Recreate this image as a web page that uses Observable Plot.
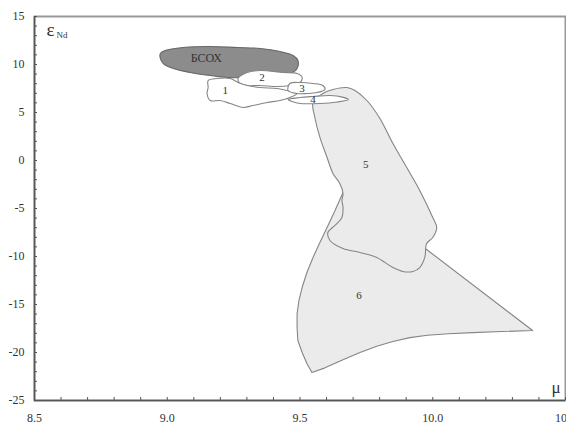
<!DOCTYPE html>
<html><head><meta charset="utf-8">
<script src="https://cdn.jsdelivr.net/npm/d3@7"></script>
<script src="https://cdn.jsdelivr.net/npm/@observablehq/plot@0.6"></script>
<style>
body{margin:0;background:#fff;}
svg text{font-family:"Liberation Serif","DejaVu Serif",serif !important;}
</style>
</head><body><div id="chart"></div>
<script>
// axis domains and ticks
const xDomain = [8.5, 10.5];
const yDomain = [-25, 15];
const xTicks = [8.5, 9.0, 9.5, 10.0, 10.5];
const yTicks = [-25, -20, -15, -10, -5, 0, 5, 10, 15];
const xMinor = d3.range(85, 106).map(d => d / 10);
const yMinor = d3.range(-25, 16);

// field outlines [mu, epsNd]
const bsox = [[8.974,11.15],[8.992,11.46],[9.060,11.77],[9.162,11.875],[9.263,11.77],[9.350,11.67],[9.425,11.35],[9.474,10.94],[9.492,10.42],[9.489,9.58],[9.462,9.06],[9.414,9.06],[9.350,9.06],[9.301,9.06],[9.267,8.65],[9.226,8.65],[9.162,8.85],[9.086,9.17],[9.023,9.58],[8.985,10.10],[8.974,10.63]];
const field1 = [[9.154,8.33],[9.188,8.54],[9.237,8.54],[9.267,8.125],[9.301,7.81],[9.350,7.60],[9.414,7.50],[9.451,7.29],[9.489,6.98],[9.462,6.56],[9.425,6.25],[9.376,6.04],[9.323,5.73],[9.286,5.52],[9.237,5.94],[9.199,6.25],[9.162,6.25],[9.150,6.98],[9.154,7.60]];
const field2 = [[9.267,8.54],[9.301,9.17],[9.350,9.375],[9.436,9.17],[9.489,9.06],[9.508,8.65],[9.500,8.125],[9.462,7.81],[9.414,7.71],[9.350,7.81],[9.301,7.81],[9.274,8.02]];
const field3 = [[9.462,8.02],[9.500,8.125],[9.549,8.02],[9.586,7.81],[9.594,7.40],[9.564,7.08],[9.526,6.98],[9.489,6.98],[9.455,7.29]];
const field4 = [[9.455,6.35],[9.500,6.56],[9.549,6.67],[9.613,6.77],[9.660,6.60],[9.682,6.35],[9.640,6.10],[9.575,5.94],[9.500,5.94],[9.470,6.15]];
const field5 = [[9.549,6.04],[9.586,6.98],[9.624,7.40],[9.677,7.60],[9.707,7.29],[9.752,6.25],[9.801,4.375],[9.850,1.77],[9.902,-0.73],[9.951,-3.125],[10.000,-5.94],[10.015,-6.98],[10.000,-8.02],[9.977,-8.65],[9.970,-10.10],[9.951,-11.15],[9.925,-11.56],[9.887,-11.56],[9.850,-11.15],[9.789,-10.10],[9.726,-9.58],[9.662,-9.17],[9.613,-8.33],[9.605,-7.5],[9.632,-6.77],[9.658,-5.94],[9.662,-4.90],[9.658,-4.17],[9.662,-3.44],[9.650,-2.40],[9.624,-1.35],[9.602,0.31],[9.575,2.40],[9.556,4.48]];
const field6 = [[9.662,-3.33],[9.632,-5.21],[9.602,-6.98],[9.575,-8.54],[9.549,-10.10],[9.526,-11.67],[9.508,-13.23],[9.496,-14.58],[9.489,-15.94],[9.489,-17.40],[9.492,-18.75],[9.508,-20.0],[9.526,-21.15],[9.545,-22.08],[9.594,-21.60],[9.662,-20.75],[9.726,-20.00],[9.789,-19.35],[9.850,-18.85],[9.914,-18.45],[9.980,-18.20],[10.060,-18.05],[10.150,-17.93],[10.260,-17.82],[10.376,-17.71],[9.977,-9.27]];

// field labels
const labelNames = ["БСОХ", "1", "2", "3", "4", "5", "6"];
const labelX = [9.147, 9.218, 9.357, 9.508, 9.549, 9.748, 9.722];
const labelY = [10.63, 7.29, 8.65, 7.5, 6.35, -0.42, -14.06];
const labelSize = [12, 11, 11, 11, 11, 11, 11];
const labels = labelNames.map((t, i) => ({t, x: labelX[i], y: labelY[i], s: labelSize[i]}));

const serif = "Liberation Serif";
const px = d => d[0], py = d => d[1];
const light = {x: px, y: py, fill: "#ebebeb", stroke: "#858585", strokeWidth: 1.1};
const white = {x: px, y: py, fill: "#ffffff", stroke: "#858585", strokeWidth: 1.1, curve: "catmull-rom-closed"};

const chart = Plot.plot({
  width: 566, height: 426,
  marginLeft: 34, marginRight: 1, marginTop: 16, marginBottom: 26,
  style: {fontFamily: serif, fontSize: "12px", color: "#333", background: "#fff"},
  x: {domain: xDomain},
  y: {domain: yDomain},
  marks: [
    Plot.frame({stroke: "#999", strokeWidth: 2}),
    Plot.line(field6, {...light, curve: "linear-closed"}),
    Plot.line(field5, {...light, curve: "catmull-rom-closed"}),
    Plot.line(bsox, {x: px, y: py, fill: "#8c8c8c", stroke: "#666", strokeWidth: 1.1, curve: "catmull-rom-closed"}),
    Plot.line(field2, white),
    Plot.line(field1, white),
    Plot.line(field3, white),
    Plot.line(field4, white),
    Plot.ruleX(xDomain.slice(0, 1), {stroke: "#555", strokeWidth: 1.5}),
    Plot.ruleY(yDomain.slice(0, 1), {stroke: "#555", strokeWidth: 1.5}),
    Plot.axisX({ticks: xTicks, tickFormat: d => d.toFixed(1), tickSize: 0, tickPadding: 13, label: null, fontFamily: serif, fontSize: 12}),
    Plot.axisX({ticks: xMinor, tickSize: 3, dy: -3, text: null, label: null, stroke: "#555"}),
    Plot.axisY({ticks: yTicks, tickFormat: d => String(d), tickSize: 0, tickPadding: 10, label: null, fontFamily: serif, fontSize: 12}),
    Plot.axisY({ticks: yMinor, tickSize: 3, dx: 3, text: null, label: null, stroke: "#555"}),
    Plot.text(labels, {x: "x", y: "y", text: "t", fontSize: "s", fill: "#333", fontFamily: serif}),
    Plot.text(["ε"], {frameAnchor: "top-left", dx: 12, dy: 19, lineAnchor: "bottom", textAnchor: "start", fontSize: 19, fill: "#333", fontFamily: serif}),
    Plot.text(["Nd"], {frameAnchor: "top-left", dx: 22, dy: 21, lineAnchor: "bottom", textAnchor: "start", fontSize: 9, fill: "#333", fontFamily: serif}),
    Plot.text(["μ"], {frameAnchor: "bottom-right", dx: -5, dy: -8, lineAnchor: "bottom", textAnchor: "end", fontSize: 17, fill: "#333", fontFamily: serif})
  ]
});
document.getElementById("chart").append(chart);
</script>
</body></html>
